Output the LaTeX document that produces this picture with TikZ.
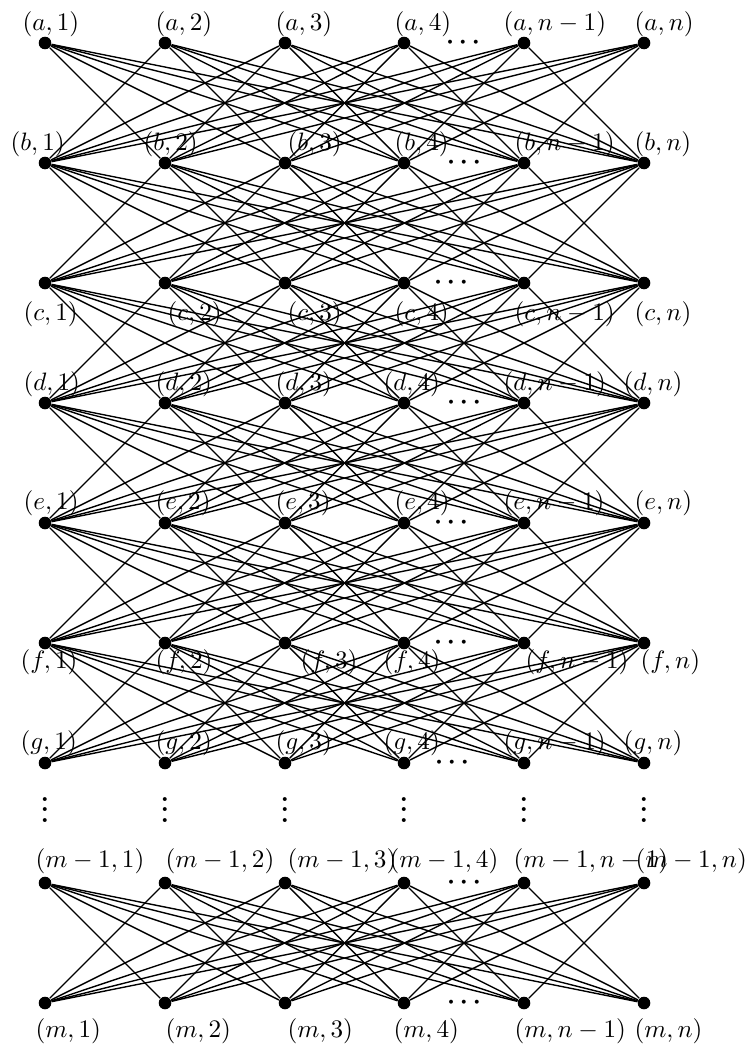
\documentclass[tikz,border=0pt]{standalone}
\begin{document}
\begin{tikzpicture}[x=0.397pt,y=-0.397pt,
  vtx/.style={circle,fill=black,inner sep=0pt,minimum size=5pt},
  lab/.style={anchor=west,inner sep=0pt},
  hdots/.style={inner sep=0pt,font=\boldmath},
  vdotsnode/.style={inner sep=0pt,anchor=base,font=\bfseries\boldmath},
  edge/.style={line width=0.55pt,black}]
\useasboundingbox (0,0) rectangle (752,1047);
% vertices
\foreach \r/\y in {a/43,b/163,c/283,d/403,e/523,f/643,g/763,p/883,m/1003}{
  \foreach \c/\x in {1/45,2/165,3/285,4/404,5/524,6/644}{
    \node[vtx] (\r\c) at (\x,\y) {};
  }
}
% labels
\foreach \c/\x/\t in {1/22/1,2/155/2,3/275/3,4/394/4,5/503/n-1,6/634/n}
  \node[lab] (la\c) at (\x,24) {$(a,\t)$};
\foreach \c/\x/\t in {1/10/1,2/143/2,3/287/3,4/394/4,5/514/n-1,6/634/n}
  \node[lab] (lb\c) at (\x,144) {$(b,\t)$};
\foreach \c/\x/\t in {1/23/1,2/167/2,3/287/3,4/394/4,5/514/n-1,6/634/n}
  \node[lab] (lc\c) at (\x,314) {$(c,\t)$};
\foreach \c/\x/\t in {1/23/1,2/155/2,3/275/3,4/383/4,5/503/n-1,6/623/n}
  \node[lab] (ld\c) at (\x,384) {$(d,\t)$};
\foreach \c/\x/\t in {1/23/1,2/155/2,3/275/3,4/394/4,5/503/n-1,6/634/n}
  \node[lab] (le\c) at (\x,503) {$(e,\t)$};
\foreach \c/\x/\t in {1/20/1,2/155/2,3/300/3,4/383/4,5/525/n-1,6/640/n}
  \node[lab] (lf\c) at (\x,662) {$(f,\t)$};
\foreach \c/\x/\t in {1/20/1,2/155/2,3/275/3,4/383/4,5/503/n-1,6/623/n}
  \node[lab] (lg\c) at (\x,743) {$(g,\t)$};
\foreach \c/\x/\t in {1/35/1,2/165/2,3/287/3,4/389/4,5/513/n-1,6/635/n}
  \node[lab] (lp\c) at (\x,861) {$(m-1,\t)$};
\foreach \c/\x/\t in {1/35/1,2/165/2,3/287/3,4/393/4,5/514/n-1,6/634/n}
  \node[lab] (lm\c) at (\x,1031) {$(m,\t)$};
% horizontal dots
\foreach \r/\x/\y in {a/463/43,b/464/163,c/451/283,d/464/403,e/451/523,f/451/643,g/452/763,p/464/883,m/464/1003}
  \node[hdots] (hd\r) at (\x,\y) {$\cdots$};
% vertical dots
\foreach \c/\x in {1/45,2/165,3/285,4/404,5/524,6/644}
  \node[vdotsnode] (vd\c) at (\x,822) {$\vdots$};
% edges
\foreach \u/\v in {a/b,b/c,c/d,d/e,e/f,f/g,p/m}{
  \foreach \i in {1,...,6}{
    \foreach \j in {1,...,6}{
      \ifnum\i=\j\relax\else
        \draw[edge] (\u\i) -- (\v\j);
      \fi
    }
  }
}
\end{tikzpicture}
\end{document}
